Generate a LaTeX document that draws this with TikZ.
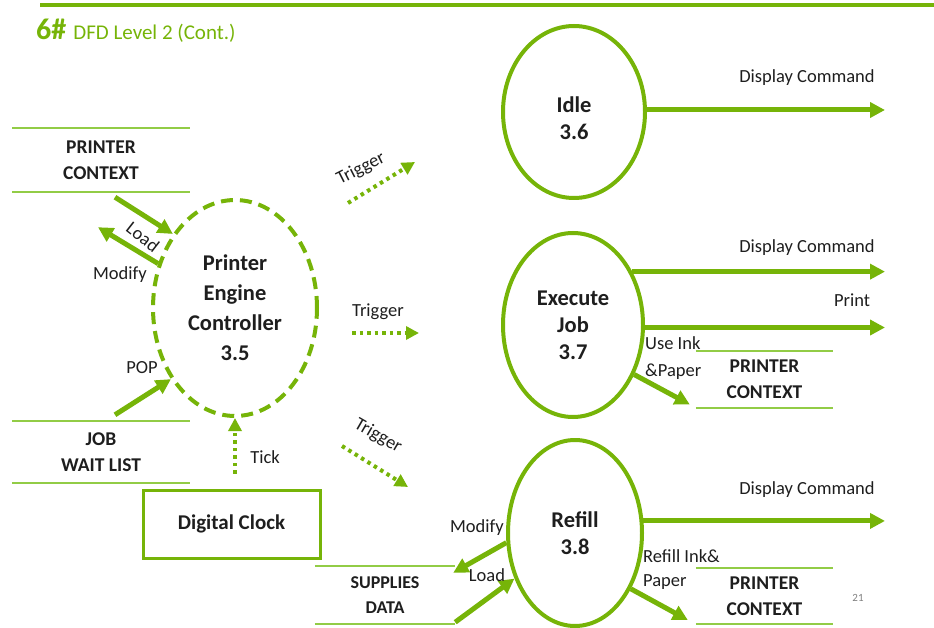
\documentclass[tikz,border=0pt]{standalone}
\usepackage{fontspec}
\setmainfont{Carlito}
\usetikzlibrary{shapes.geometric,arrows.meta,calc}
\definecolor{dgreen}{RGB}{118,180,8}
\definecolor{lgreen}{RGB}{146,204,70}
\definecolor{txt}{RGB}{30,30,30}
\begin{document}
\begin{tikzpicture}[x=1pt,y=-1pt,
  proc/.style={ellipse,draw=dgreen,fill=white,line width=4pt,inner sep=0pt,align=center,
    font=\fontsize{22.5}{27}\selectfont\bfseries,text=txt},
  ptext/.style={align=center,inner sep=0pt,font=\fontsize{22.5}{27}\selectfont\bfseries,text=txt},
  store/.style={minimum width=177pt,inner sep=0pt,align=center,
    font=\fontsize{19.5}{26}\selectfont\bfseries,text=txt},
  flow/.style={draw=dgreen,line width=5pt,-{Triangle[length=15pt,width=15pt]}},
  trig/.style={draw=dgreen,line width=4pt,dash pattern=on 3.5pt off 4pt,
    -{Triangle[length=13pt,width=13pt]}},
  lbl/.style={font=\fontsize{18.5}{22}\selectfont,text=txt,inner sep=0pt},
  sline/.style={draw=lgreen,line width=2.5pt}]
\useasboundingbox (0,0) rectangle (934,628);

% header
\coordinate (h1) at (40,5);
\coordinate (h2) at (934,5);
\draw[dgreen,line width=4pt] (h1) -- (h2);
\node[anchor=west,text=dgreen,inner sep=0pt] (title) at (36,31)
  {{\fontsize{30}{30}\selectfont\bfseries 6\#}\hspace{7pt}{\fontsize{21}{21}\selectfont DFD Level 2 (Cont.)}};

% processes
\node[proc,dashed,dash pattern=on 12pt off 7pt,minimum width=164pt,minimum height=216pt] (pec) at (235,308)
  {Printer\\[3pt]Engine\\[3pt]Controller\\[3pt]3.5};
\node[proc,minimum width=142pt,minimum height=172pt] (idle) at (574,112) {};
\node[ptext] (idleT) at ($(idle)+(0,6)$) {Idle\\3.6};
\node[proc,minimum width=140pt,minimum height=184pt] (exec) at (573,325) {Execute\\Job\\3.7};
\node[proc,minimum width=134pt,minimum height=186pt] (refill) at (575,533) {Refill\\3.8};

% stores
\node[store,minimum height=64pt] (pc1) at (101,160) {PRINTER\\CONTEXT};
\draw[sline] (pc1.north west) -- (pc1.north east);
\draw[sline] (pc1.south west) -- (pc1.south east);
\node[store,minimum height=62pt] (job) at (101,452) {JOB\\WAIT LIST};
\draw[sline] (job.north west) -- (job.north east);
\draw[sline] (job.south west) -- (job.south east);
\node[store,minimum width=140pt,minimum height=58pt,font=\fontsize{18}{25}\selectfont\bfseries] (sd) at (385,595) {SUPPLIES\\DATA};
\draw[sline] (sd.north west) -- (sd.north east);
\draw[sline] (sd.south west) -- (sd.south east);
\node[store,minimum width=137pt,minimum height=57pt] (pc2) at (764.5,379.5) {PRINTER\\CONTEXT};
\draw[sline] (pc2.north west) -- (pc2.north east);
\draw[sline] (pc2.south west) -- (pc2.south east);
\node[store,minimum width=137pt,minimum height=56pt] (pc3) at (764.5,596) {PRINTER\\CONTEXT};
\draw[sline] (pc3.north west) -- (pc3.north east);
\draw[sline] (pc3.south west) -- (pc3.south east);

% external entity
\node[draw=dgreen,line width=3pt,minimum width=177pt,minimum height=68pt,
  font=\fontsize{21}{24}\selectfont\bfseries,text=txt] (clock) at (231.5,524) {Digital Clock};

% flows around PEC
\draw[flow] ($(pc1.south)+(14,5)$) -- (pec.130);
\draw[flow] (pec.150) -- ($(pc1.south)+(-3,35)$);
\draw[flow] ($(job.north)+(14,-6)$) -- (pec.228);
\draw[trig] ($(clock.north -| pec.south)+(0,-15)$) -- (pec.south);
\node[lbl,rotate=-38] (lLoad1) at (143,237) {Load};
\node[lbl] (lMod1) at (120,275) {Modify};
\node[lbl] (lPop) at (142,368) {POP};
\node[lbl] (lTick) at (265,457) {Tick};

% triggers
\coordinate (t1a) at (348,203); \coordinate (t1b) at (415,162);
\coordinate (t2a) at (352,333); \coordinate (t2b) at (419,333);
\coordinate (t3a) at (342,446); \coordinate (t3b) at (408,487);
\draw[trig] (t1a) -- (t1b);
\draw[trig] (t2a) -- (t2b);
\draw[trig] (t3a) -- (t3b);
\node[lbl,rotate=27] (lt1) at (361,169) {Trigger};
\node[lbl] (lt2) at (378,312) {Trigger};
\node[lbl,rotate=-30] (lt3) at (378,436) {Trigger};

% outputs
\coordinate (d1) at (885,110);
\coordinate (d2) at (885,273);
\coordinate (d3) at (885,328);
\coordinate (d4) at (885,521);
\draw[flow] (idle.east |- d1) -- (d1);
\draw[flow] (exec.42) -- (exec.42 -| d2);
\draw[flow] (exec.-2) -- (exec.-2 -| d3);
\draw[flow] (refill.10) -- (refill.10 -| d4);
\node[lbl] (ld1) at (807,78) {Display Command};
\node[lbl] (ld2) at (807,248) {Display Command};
\node[lbl] (lpr) at (852,300) {Print};
\node[lbl] (ld4) at (807,490) {Display Command};

\draw[flow] (exec.-39) -- ($(pc2.west)+(-6,25)$);
\node[lbl,anchor=west] (luse1) at (645,343) {Use Ink};
\node[lbl,anchor=west] (luse2) at (645,372) {\&Paper};
\draw[flow] (refill.-45) -- ($(pc3.west)+(-8,24)$);
\node[lbl,anchor=west] (lrf1) at (643,556) {Refill Ink\&};
\node[lbl,anchor=west] (lrf2) at (643,582) {Paper};

\draw[flow] (refill.188) -- ($(sd.north east)+(-2,7)$);
\draw[flow] ($(sd.south east)+(0,-2)$) -- (refill.217);
\node[lbl] (lMod2) at (477,528) {Modify};
\node[lbl] (lLoad2) at (487,575) {Load};

\node[font=\fontsize{11}{11}\selectfont,text=gray] (pg) at (858,598) {21};
\end{tikzpicture}
\end{document}
